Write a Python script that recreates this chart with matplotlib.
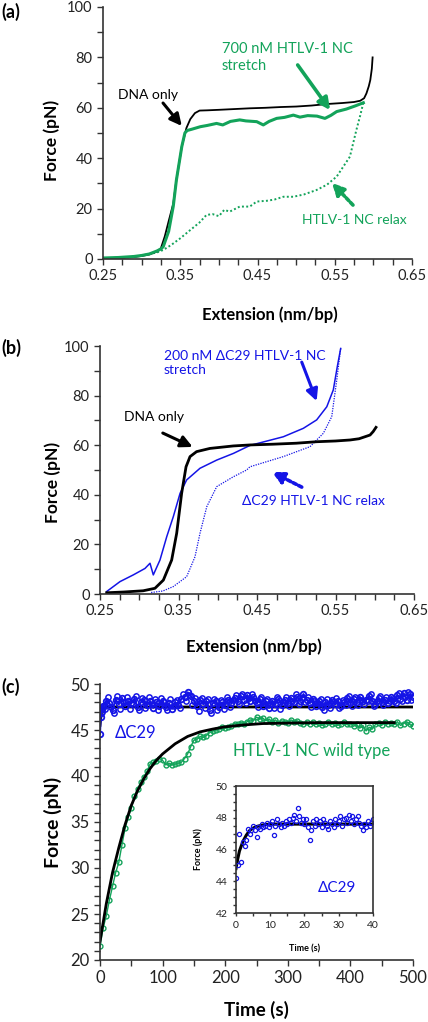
import matplotlib
matplotlib.use("Agg")
import matplotlib.pyplot as plt
from matplotlib.ticker import MultipleLocator, FixedLocator

plt.rcParams["font.family"] = ["Lato", "DejaVu Sans"]

# ---- panel (a): DNA only vs 700 nM HTLV-1 NC ----
a_dna_x = [0.25, 0.27, 0.29, 0.30, 0.31, 0.32, 0.325, 0.33, 0.335, 0.341, 0.345, 0.352, 0.358, 0.363, 0.369,
           0.375, 0.385, 0.40, 0.42, 0.44, 0.46, 0.48, 0.50, 0.52, 0.54, 0.56, 0.575, 0.583, 0.588, 0.591,
           0.594, 0.596, 0.598, 0.599]
a_dna_y = [0.3, 0.5, 0.8, 1.2, 1.8, 3.0, 4.3, 9.0, 15.0, 22.0, 31.3, 44.6, 52.0, 55.5, 57.9,
           58.9, 59.0, 59.2, 59.5, 59.8, 60.0, 60.3, 60.5, 60.9, 61.5, 61.9, 62.3, 62.8, 63.8, 65.7,
           68.5, 71.0, 75.5, 80.0]
a_str_x = [0.25, 0.27, 0.29, 0.30, 0.31, 0.32, 0.325, 0.328, 0.335, 0.341, 0.345, 0.352, 0.356, 0.359,
           0.365, 0.376, 0.385, 0.397, 0.405, 0.415, 0.427, 0.435, 0.449, 0.4575, 0.465, 0.4748, 0.485,
           0.4964, 0.505, 0.515, 0.527, 0.5373, 0.545, 0.5525, 0.565, 0.577, 0.587]
a_str_y = [0.4, 0.6, 1.0, 1.4, 2.0, 3.2, 4.0, 4.9, 11.0, 21.0, 31.3, 44.6, 50.0, 51.0,
           51.5, 52.5, 53.0, 53.8, 53.2, 54.6, 55.2, 54.8, 54.5, 53.2, 54.6, 55.8, 56.2,
           57.1, 56.3, 56.9, 56.7, 55.8, 57.0, 58.5, 59.5, 60.8, 62.0]
a_rel_x = [0.587, 0.583, 0.578, 0.5696, 0.5525, 0.54, 0.5266, 0.51, 0.4964, 0.4835, 0.472, 0.462,
           0.449, 0.44, 0.427, 0.414, 0.407, 0.400, 0.392, 0.384, 0.375, 0.363, 0.35, 0.338, 0.328,
           0.32, 0.30, 0.28, 0.25]
a_rel_y = [62.0, 57.0, 51.2, 40.6, 32.7, 29.5, 27.4, 25.6, 24.7, 24.7, 23.6, 23.1,
           22.8, 20.8, 20.8, 18.8, 19.5, 17.0, 17.8, 17.5, 14.5, 11.5, 8.2, 5.5, 3.6,
           2.6, 1.4, 0.6, 0.3]

# ---- panel (b): DNA only vs 200 nM dC29 HTLV-1 NC ----
b_dna_x = [0.2585, 0.28, 0.305, 0.32, 0.3307, 0.3413, 0.3477, 0.354, 0.3596, 0.3647, 0.373, 0.39,
           0.4198, 0.441, 0.47, 0.50, 0.526, 0.55, 0.5685, 0.58, 0.594, 0.598, 0.6016]
b_dna_y = [0.5, 0.8, 1.3, 2.3, 5.6, 13.7, 24.5, 40.6, 51.3, 55.4, 57.4, 58.7,
           59.7, 60.1, 60.4, 60.8, 61.4, 61.7, 62.1, 62.6, 64.1, 65.5, 67.2]
b_str_x = [0.2585, 0.2755, 0.2924, 0.3073, 0.3137, 0.3179, 0.3264, 0.335, 0.3434, 0.352, 0.3604,
           0.3774, 0.3987, 0.42, 0.441, 0.4835, 0.509, 0.526, 0.5389, 0.5472, 0.5523, 0.5566]
b_str_y = [1.0, 5.0, 7.7, 10.3, 12.4, 7.7, 13.7, 23.1, 31.2, 40.6, 46.0,
           50.7, 54.0, 56.7, 59.9, 63.4, 66.8, 70.2, 75.5, 82.3, 91.7, 99.0]
b_rel_x = [0.5566, 0.5516, 0.5452, 0.5345, 0.5175, 0.4835, 0.441, 0.4368, 0.42, 0.3987, 0.386,
           0.3774, 0.371, 0.3604, 0.3434, 0.33, 0.315]
b_rel_y = [99.0, 86.3, 71.5, 64.8, 59.4, 55.4, 51.3, 50.0, 47.3, 43.3, 35.2,
           24.5, 15.0, 7.0, 3.0, 1.2, 0.6]

# ---- panel (c): force vs time at constant extension ----
dc29_t = [0, 1, 2, 3, 4] + list(range(5, 505, 5))
dc29_f = [44.6, 46.4, 46.9, 47.3, 47.5,
          47.6, 48.2, 47.9, 47.2, 48.3, 47.8, 48.5, 47.6, 48.1, 47.9,
          48.4, 47.5, 48.0, 48.3, 47.7, 48.1, 47.4, 48.0, 47.6, 48.2,
          47.5, 47.9, 47.3, 48.0, 47.7, 48.4, 48.6, 49.1, 48.7, 48.2,
          47.6, 48.3, 47.8, 48.1, 47.2, 47.9, 48.2, 47.5, 48.0, 47.7,
          48.3, 47.9, 48.5, 48.1, 48.7, 48.3, 48.8, 48.2, 48.6, 47.9,
          48.4, 47.6, 48.1, 47.4, 48.2, 47.8, 48.4, 47.7, 48.3, 47.9,
          48.5, 48.0, 48.6, 48.2, 48.9, 48.3, 47.9, 48.4, 47.6, 48.1,
          47.5, 48.0, 47.7, 48.3, 47.8, 48.2, 47.6, 48.0, 48.5, 47.9,
          48.4, 48.0, 48.6, 48.1, 48.3, 48.7, 48.2, 47.8, 48.5, 48.0,
          48.3, 47.9, 48.6, 48.2, 48.8, 48.4, 49.0, 48.3, 48.9, 48.6]
# in-between readings of the dC29 band (t = 2.5, 7.5, ... 497.5)
dc29_t2 = [2.5 + 5 * k for k in range(100)]
dc29_f2 = [47.0, 47.3, 48.6, 47.5, 46.9, 48.7, 47.3, 48.0, 48.6, 47.3,
           47.8, 48.7, 47.2, 48.5, 47.4, 48.6, 47.8, 48.4, 47.2, 48.5,
           48.0, 47.2, 48.4, 47.6, 48.3, 47.4, 48.9, 48.2, 48.8, 47.7,
           48.5, 47.1, 48.5, 47.4, 48.4, 46.9, 48.4, 47.2, 48.3, 47.3,
           48.6, 47.5, 48.3, 48.8, 47.8, 48.9, 47.9, 48.5, 48.9, 48.1,
           47.5, 48.6, 47.9, 48.4, 47.8, 47.4, 48.6, 47.3, 48.0, 48.6,
           47.6, 48.2, 48.9, 47.8, 48.5, 48.0, 48.6, 47.5, 48.2, 47.9,
           48.4, 47.2, 48.4, 47.4, 48.0, 48.5, 47.4, 48.3, 47.7, 48.7,
           47.6, 48.6, 47.7, 48.3, 47.8, 48.2, 48.9, 47.6, 48.2, 48.7,
           47.7, 48.6, 48.1, 48.4, 47.9, 49.0, 48.1, 48.6, 49.1, 48.3]
wt_t = list(range(0, 505, 5))
wt_f = [21.5, 23.5, 24.8, 26.5, 28.0, 29.5, 30.6, 32.5, 34.3, 35.5, 36.5, 37.8, 38.6, 39.3, 39.9,
        40.5, 41.3, 41.5, 41.6, 41.9, 41.7, 41.2, 41.4, 41.2, 41.3, 41.4, 41.5, 41.9, 42.4, 43.2,
        43.9, 44.0, 44.3, 44.2, 44.4, 44.7, 44.9, 45.0, 45.1, 45.3, 45.2, 45.3, 45.4, 45.7, 45.6,
        45.8, 45.7, 45.9, 46.1, 46.0, 46.4, 46.2, 46.3, 46.0, 46.2, 45.9, 46.1, 45.8, 46.0, 45.9,
        45.8, 46.1, 45.9, 46.0, 45.8, 45.6, 45.9, 45.7, 45.9, 45.6, 45.8, 45.5, 45.7, 45.9, 45.6,
        45.8, 45.5, 45.7, 45.9, 45.6, 45.7, 45.4, 45.6, 45.2, 45.5, 44.9, 45.3, 45.1, 45.6, 45.8,
        45.5, 45.9, 45.7, 45.8, 45.6, 45.9, 45.5, 45.7, 45.9, 45.6, 45.4]
wt_fit_t = [0, 10, 20, 30, 40, 50, 60, 70, 80, 90, 100, 120, 140, 160, 180, 200, 230, 260, 300, 350, 470]
wt_fit_f = [22.0, 26.1, 29.5, 32.2, 34.7, 36.8, 38.4, 39.7, 40.8, 41.7, 42.4, 43.5, 44.3, 44.8, 45.1,
            45.35, 45.55, 45.7, 45.75, 45.8, 45.8]
dc29_fit_t = [0, 2, 5, 10, 20, 500]
dc29_fit_f = [45.5, 46.8, 47.3, 47.5, 47.5, 47.5]

# inset: first 40 s of dC29
ins_t = [i * 0.5 for i in range(81)]
ins_f = [44.2, 45.0, 47.0, 45.2, 46.5, 46.2, 46.6, 47.3, 47.0, 47.2, 47.5, 47.2, 46.8, 47.4, 47.3,
         47.6, 47.4, 47.5, 47.7, 47.4, 47.6, 47.8, 46.9, 47.5, 47.9, 47.6, 47.4, 47.7, 47.5, 47.8,
         47.6, 47.9, 47.7, 48.0, 48.2, 47.8, 48.6, 48.1, 47.7, 47.9, 47.6, 47.9, 47.4, 46.6, 47.2,
         47.8, 47.5, 47.9, 47.6, 47.8, 47.4, 47.9, 47.7, 47.5, 47.3, 47.8, 47.6, 47.4, 47.9, 47.6,
         47.8, 48.1, 47.5, 47.9, 48.0, 47.7, 48.2, 47.8, 48.1, 47.6, 47.9, 48.1, 47.7, 47.5, 47.2,
         47.6, 47.4, 47.8, 47.5, 47.7, 47.9]
ins_fit_t = [0, 0.5, 1, 2, 3, 4, 5, 6, 8, 10, 40]
ins_fit_f = [44.8, 45.4, 45.9, 46.5, 46.9, 47.2, 47.35, 47.45, 47.55, 47.6, 47.6]

ext_ticks = [0.25, 0.35, 0.45, 0.55, 0.65]

GREEN = "#13a35a"
BLUE = "#1414e6"
AXC = "#333333"

W, H = 428, 1022
fig = plt.figure(figsize=(W / 100, H / 100), dpi=100)


def box(l, t, r, b):
    return [l / W, 1 - b / H, (r - l) / W, (b - t) / H]


def style(ax, fs, full=False):
    for s in ["left", "bottom"]:
        ax.spines[s].set_color(AXC)
        ax.spines[s].set_linewidth(1.2)
    if full:
        for s in ["right", "top"]:
            ax.spines[s].set_color(AXC)
            ax.spines[s].set_linewidth(1.2)
    else:
        ax.spines["right"].set_visible(False)
        ax.spines["top"].set_visible(False)
    ax.tick_params(which="both", direction="out", color=AXC, width=1, labelsize=fs, labelcolor="#222222")
    ax.tick_params(which="major", length=4)
    ax.tick_params(which="minor", length=4)


def arrow(ax, xy, xytext, color, lw=2.2, dotted=False):
    props = dict(arrowstyle="-|>,head_length=0.7,head_width=0.35", color=color, lw=lw,
                 shrinkA=0, shrinkB=0)
    if dotted:
        props["ls"] = (0, (1, 0.7))
    ax.annotate("", xy=xy, xytext=xytext, arrowprops=props)


def ext_axis(ax):
    ax.set_xlim(0.25, 0.65)
    ax.set_ylim(0, 100)
    ax.xaxis.set_major_locator(FixedLocator(ext_ticks))
    ax.xaxis.set_minor_locator(MultipleLocator(0.025))
    ax.yaxis.set_major_locator(MultipleLocator(20))
    ax.yaxis.set_minor_locator(MultipleLocator(10))
    ax.xaxis.set_major_formatter(lambda v, p: f"{v:.2f}")
    style(ax, 10.5)
    ax.set_xlabel("Extension (nm/bp)", fontsize=12, fontweight="bold")
    ax.set_ylabel("Force (pN)", fontsize=12.5, fontweight="bold")


# panel (a)
ax = fig.add_axes(box(103, 7, 412, 259))
ax.plot(a_rel_x, a_rel_y, color=GREEN, lw=1.4, ls=(0, (1, 1.2)))
ax.plot(a_dna_x, a_dna_y, color="black", lw=1.3)
ax.plot(a_str_x, a_str_y, color=GREEN, lw=2.2)
ext_axis(ax)
ax.xaxis.set_label_coords(0.54, -0.19)
ax.yaxis.set_label_coords(-0.139, 0.47)
ax.text(0.308, 65, "DNA only", fontsize=10, ha="center", va="center")
arrow(ax, (0.352, 52.8), (0.3277, 61.9), "black")
ax.text(0.404, 80, "700 nM HTLV-1 NC\nstretch", fontsize=10.5, color=GREEN, ha="left", va="center",
        linespacing=1.25)
arrow(ax, (0.544, 59.1), (0.502, 77), GREEN, lw=2.6)
ax.text(0.508, 15.5, "HTLV-1 NC relax", fontsize=10, color=GREEN, ha="left", va="center")
arrow(ax, (0.5464, 30.2), (0.5736, 21.4), GREEN, lw=2.6, dotted=True)

# panel (b)
ax = fig.add_axes(box(100, 346, 414, 594))
ax.plot(b_rel_x, b_rel_y, color=BLUE, lw=0.9, ls=(0, (1, 1)))
ax.plot(b_str_x, b_str_y, color=BLUE, lw=1.1)
ax.plot(b_dna_x, b_dna_y, color="black", lw=2)
ext_axis(ax)
ax.xaxis.set_label_coords(0.49, -0.181)
ax.yaxis.set_label_coords(-0.124, 0.45)
ax.text(0.3315, 93, "200 nM \u0394C29 HTLV-1 NC\nstretch", fontsize=10, color=BLUE, ha="left",
        va="center", linespacing=1.2)
arrow(ax, (0.526, 77.8), (0.507, 93.5), BLUE)
ax.text(0.319, 71.4, "DNA only", fontsize=10, ha="center", va="center")
arrow(ax, (0.368, 59.3), (0.330, 64.9), "black")
ax.text(0.431, 37.5, "\u0394C29 HTLV-1 NC relax", fontsize=10, color=BLUE, ha="left", va="center")
arrow(ax, (0.469, 49.2), (0.507, 43.1), BLUE, lw=2.6, dotted=True)

# panel (c)
ax = fig.add_axes(box(100, 684, 413, 960))
ax.plot(wt_t, wt_f, color=GREEN, lw=1.0, marker="o", ms=3.5, mfc="none", mew=1)
ax.plot(dc29_t2, dc29_f2, ls="none", color=BLUE, marker="o", ms=3.8, mfc="none", mew=1.1)
ax.plot(dc29_t, dc29_f, color=BLUE, lw=1.5, marker="o", ms=4, mfc="none", mew=1.3)
ax.plot(wt_fit_t, wt_fit_f, color="black", lw=2)
ax.plot(dc29_fit_t, dc29_fit_f, color="black", lw=2, zorder=1)
ax.set_xlim(0, 500)
ax.set_ylim(20, 50)
ax.xaxis.set_major_locator(MultipleLocator(100))
ax.xaxis.set_minor_locator(MultipleLocator(50))
ax.yaxis.set_major_locator(MultipleLocator(5))
ax.yaxis.set_minor_locator(MultipleLocator(1))
style(ax, 12)
ax.set_xlabel("Time (s)", fontsize=13.5, fontweight="bold")
ax.xaxis.set_label_coords(0.5, -0.149)
ax.set_ylabel("Force (pN)", fontsize=14, fontweight="bold")
ax.yaxis.set_label_coords(-0.121, 0.5)
ax.text(24, 44.7, "\u0394C29", fontsize=12, color=BLUE, ha="left", va="center")
ax.text(212, 42.7, "HTLV-1 NC wild type", fontsize=12, color=GREEN, ha="left", va="center")

# inset
ax = fig.add_axes(box(236, 786, 373, 913))
ax.plot(ins_t, ins_f, ls="none", color=BLUE, marker="o", ms=3, mfc="none", mew=0.9)
ax.plot(ins_fit_t, ins_fit_f, color="black", lw=2.2, zorder=1)
ax.set_xlim(0, 40)
ax.set_ylim(42, 50)
ax.xaxis.set_major_locator(MultipleLocator(10))
ax.xaxis.set_minor_locator(MultipleLocator(5))
ax.yaxis.set_major_locator(MultipleLocator(2))
ax.yaxis.set_minor_locator(MultipleLocator(0.5))
style(ax, 7.5, full=True)
ax.tick_params(which="both", length=2.5)
ax.set_xlabel("Time (s)", fontsize=6.5, fontweight="bold")
ax.xaxis.set_label_coords(0.5, -0.244)
ax.set_ylabel("Force (pN)", fontsize=6.5, fontweight="bold")
ax.yaxis.set_label_coords(-0.24, 0.5)
ax.text(29.5, 43.6, "\u0394C29", fontsize=11, color=BLUE, ha="center", va="center")

# panel letters
fig.text(1 / W, 1 - 12 / H, "(a)", fontsize=13, fontweight="bold", va="center")
fig.text(1 / W, 1 - 348 / H, "(b)", fontsize=13, fontweight="bold", va="center")
fig.text(1 / W, 1 - 687 / H, "(c)", fontsize=13, fontweight="bold", va="center")

fig.savefig("out.png", dpi=100)
